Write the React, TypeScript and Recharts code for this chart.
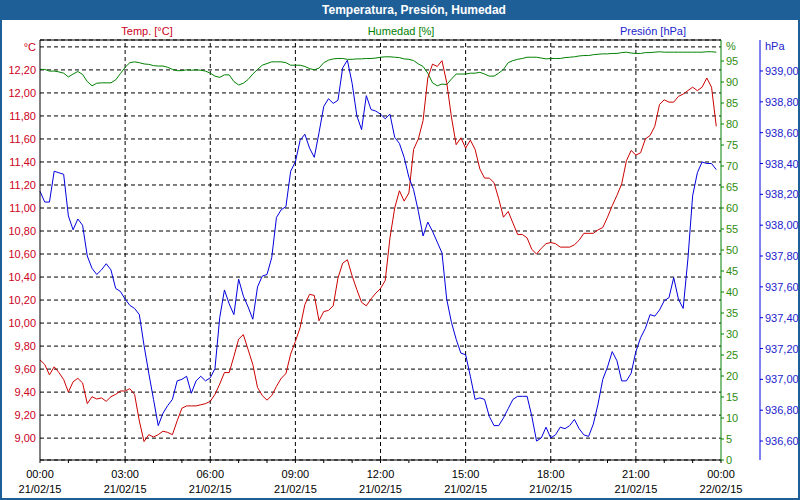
import React from 'react';
import {
  LineChart,
  Line,
  XAxis,
  YAxis,
  CartesianGrid,
  ReferenceLine
} from 'recharts';

// 10-minute readings, 21/02/15 00:00 .. 23:50
const TEMP = [
  9.68, 9.64, 9.55, 9.62, 9.57, 9.51, 9.40, 9.49, 9.52, 9.48, 9.30, 9.36, 9.34, 9.35, 9.32, 9.36, 9.38, 9.41,
  9.41, 9.43, 9.38, 9.15, 8.97, 9.03, 9.01, 9.03, 9.06, 9.05, 9.03, 9.15, 9.26, 9.28, 9.28, 9.28, 9.29, 9.30,
  9.32, 9.38, 9.47, 9.57, 9.57, 9.71, 9.86, 9.90, 9.77, 9.64, 9.44, 9.37, 9.33, 9.37, 9.45, 9.52, 9.56, 9.73,
  9.84, 9.96, 10.16, 10.25, 10.24, 10.02, 10.10, 10.11, 10.15, 10.39, 10.52, 10.55, 10.41, 10.29, 10.18, 10.15, 10.21, 10.26,
  10.30, 10.37, 10.74, 11.00, 11.15, 11.06, 11.13, 11.51, 11.60, 11.76, 12.13, 12.25, 12.23, 12.28, 12.09, 11.79, 11.55, 11.61,
  11.52, 11.59, 11.51, 11.34, 11.26, 11.26, 11.22, 11.08, 10.92, 10.97, 10.87, 10.77, 10.77, 10.74, 10.64, 10.60, 10.65, 10.69,
  10.70, 10.69, 10.66, 10.66, 10.66, 10.68, 10.72, 10.78, 10.78, 10.78, 10.81, 10.83, 10.92, 11.02, 11.11, 11.21, 11.41, 11.50,
  11.46, 11.48, 11.60, 11.63, 11.71, 11.90, 11.94, 11.92, 11.92, 11.97, 11.99, 12.02, 12.05, 12.02, 12.05, 12.13, 12.05, 11.71
];

const HUM = [
  93.0, 93.0, 92.6, 92.6, 92.4, 92.1, 91.2, 91.9, 92.5, 91.8, 90.1, 89.1, 89.7, 89.8, 89.8, 89.8, 90.5, 92.0,
  93.5, 94.6, 94.8, 94.6, 94.3, 94.2, 93.9, 93.8, 93.8, 93.5, 93.0, 92.7, 92.7, 92.9, 92.8, 92.9, 92.8, 92.6,
  92.1, 91.4, 91.1, 91.7, 91.7, 90.1, 89.3, 89.7, 90.6, 91.9, 93.0, 94.0, 94.4, 94.8, 94.8, 94.8, 94.6, 94.0,
  94.0, 94.0, 93.7, 93.2, 92.9, 93.3, 94.6, 95.2, 95.5, 95.6, 95.6, 95.4, 95.4, 95.5, 95.5, 95.6, 95.6, 95.7,
  95.9, 96.0, 96.0, 95.9, 95.8, 95.5, 95.4, 95.1, 94.3, 93.7, 92.1, 89.8, 89.1, 89.5, 89.4, 90.7, 91.9, 91.9,
  91.9, 92.1, 92.1, 92.3, 91.9, 91.4, 91.4, 92.1, 93.0, 94.6, 95.1, 95.4, 95.6, 95.9, 95.9, 95.9, 95.7, 95.5,
  95.6, 95.6, 95.6, 95.8, 95.9, 96.0, 96.2, 96.3, 96.3, 96.5, 96.6, 96.7, 96.7, 96.8, 96.8, 97.0, 97.1, 96.9,
  96.8, 96.8, 97.0, 97.0, 97.1, 97.2, 97.1, 97.1, 97.1, 97.1, 97.1, 97.1, 97.1, 97.1, 97.1, 97.2, 97.2, 97.1
];

const PRES = [
  938.22, 938.15, 938.15, 938.35, 938.34, 938.33, 938.06, 937.97, 938.04, 938.00, 937.80, 937.72, 937.68, 937.71, 937.75, 937.71, 937.59, 937.57,
  937.52, 937.48, 937.46, 937.42, 937.22, 937.04, 936.87, 936.70, 936.78, 936.83, 936.87, 936.99, 937.00, 937.02, 936.91, 936.99, 937.02, 936.99,
  937.01, 937.07, 937.40, 937.58, 937.49, 937.42, 937.65, 937.54, 937.47, 937.39, 937.60, 937.67, 937.68, 937.79, 938.05, 938.10, 938.12, 938.35,
  938.41, 938.55, 938.59, 938.50, 938.44, 938.60, 938.77, 938.82, 938.79, 938.81, 939.02, 939.07, 938.92, 938.71, 938.62, 938.84, 938.75, 938.74,
  938.72, 938.69, 938.72, 938.57, 938.53, 938.44, 938.31, 938.23, 938.09, 937.93, 938.02, 937.96, 937.89, 937.82, 937.52, 937.37, 937.26, 937.17,
  937.16, 937.02, 936.87, 936.88, 936.87, 936.76, 936.70, 936.70, 936.75, 936.81, 936.87, 936.89, 936.89, 936.89, 936.76, 936.60, 936.62, 936.69,
  936.62, 936.64, 936.69, 936.68, 936.70, 936.74, 936.68, 936.64, 936.63, 936.71, 936.84, 937.00, 937.08, 937.18, 937.12, 936.99, 936.99, 937.04,
  937.18, 937.27, 937.33, 937.42, 937.41, 937.45, 937.51, 937.53, 937.66, 937.52, 937.46, 937.78, 938.19, 938.34, 938.41, 938.40, 938.40, 938.36
];

// axis ticks
const HOURS = [0, 1, 2, 3, 4, 5, 6, 7, 8, 9, 10, 11, 12, 13, 14, 15, 16, 17, 18, 19, 20, 21, 22, 23, 24];
const TIME_LABELS = ['00:00', '03:00', '06:00', '09:00', '12:00', '15:00', '18:00', '21:00', '00:00'];
const DATE_LABELS = ['21/02/15', '21/02/15', '21/02/15', '21/02/15', '21/02/15', '21/02/15', '21/02/15', '21/02/15', '22/02/15'];
const GRID_HOURS = [3, 6, 9, 12, 15, 18, 21];

const TEMP_TICKS = [9.0, 9.2, 9.4, 9.6, 9.8, 10.0, 10.2, 10.4, 10.6, 10.8, 11.0, 11.2, 11.4, 11.6, 11.8, 12.0, 12.2, 12.4];
const TEMP_UNIT_AT = 12.4;
const HUM_TICKS = [0, 5, 10, 15, 20, 25, 30, 35, 40, 45, 50, 55, 60, 65, 70, 75, 80, 85, 90, 95, 98.6];
const HUM_UNIT_AT = 98.6;
const PRES_TICKS = [936.6, 936.8, 937.0, 937.2, 937.4, 937.6, 937.8, 938.0, 938.2, 938.4, 938.6, 938.8, 939.0, 939.16];
const PRES_UNIT_AT = 939.16;

const TEMP_DOMAIN = [8.81, 12.46];
const HUM_DOMAIN = [0, 100];
const PRES_DOMAIN = [936.477, 939.201];

const FONT = '"Liberation Sans", Arial, sans-serif';
const FRAME = '#1F5F98';
const RED = '#CC0000';
const RED_TXT = '#CC0022';
const GREEN = '#008000';
const GREEN_TXT = '#2E8B10';
const BLUE = '#0000DD';
const BLUE_TXT = '#2222CC';

const data = TEMP.map((v, i) => ({ t: i / 6, temp: v, hum: HUM[i], pres: PRES[i] }));

const comma = (v: number) => v.toFixed(2).replace('.', ',');

function TempTick({ x, y, payload }: any) {
  const v = payload.value;
  return (
    <text x={x} y={y} dy={4} textAnchor="end" fill={RED_TXT} fontSize={11} fontFamily={FONT}>
      {v === TEMP_UNIT_AT ? '°C' : comma(v)}
    </text>
  );
}

function HumTick({ x, y, payload }: any) {
  const unit = payload.value === HUM_UNIT_AT;
  return (
    <g>
      {!unit && <line x1={x - 5} x2={x - 2} y1={y} y2={y} stroke={GREEN} />}
      <text x={x} y={y} dy={4} textAnchor="start" fill={GREEN_TXT} fontSize={11} fontFamily={FONT}>
        {unit ? '%' : payload.value}
      </text>
    </g>
  );
}

function PresTick({ x, y, payload }: any) {
  const unit = payload.value === PRES_UNIT_AT;
  return (
    <g>
      {!unit && <line x1={x - 5} x2={x - 2} y1={y} y2={y} stroke={BLUE} />}
      <text x={x} y={y} dy={4} textAnchor="start" fill={BLUE_TXT} fontSize={11} fontFamily={FONT}>
        {unit ? 'hPa' : comma(payload.value)}
      </text>
    </g>
  );
}

function HourTick({ x, y, payload }: any) {
  const h = payload.value;
  if (h % 3 !== 0) return <g />;
  const idx = h / 3;
  return (
    <text x={x} y={y} textAnchor="middle" fill="#000" fontSize={11} fontFamily={FONT}>
      <tspan x={x} dy={13}>{TIME_LABELS[idx]}</tspan>
      <tspan x={x} dy={15}>{DATE_LABELS[idx]}</tspan>
    </text>
  );
}

export default function App() {
  const header = (text: string, cx: number, color: string) => (
    <div
      style={{
        position: 'absolute',
        left: cx,
        top: 24,
        transform: 'translateX(-50%)',
        color,
        fontSize: 11,
        lineHeight: '14px',
        fontFamily: FONT,
        whiteSpace: 'nowrap'
      }}
    >
      {text}
    </div>
  );

  return (
    <div style={{ position: 'relative', width: 800, height: 500, background: FRAME }}>
      <style>{'body{margin:0}'}</style>
      <div
        style={{
          position: 'absolute',
          left: 414,
          top: 3,
          transform: 'translateX(-50%)',
          color: '#fff',
          fontWeight: 'bold',
          fontSize: 12,
          lineHeight: '14px',
          fontFamily: FONT,
          whiteSpace: 'nowrap'
        }}
      >
        Temperatura, Presión, Humedad
      </div>
      <div style={{ position: 'absolute', left: 2, top: 20, width: 796, height: 478, background: '#fff' }}>
        <LineChart width={796} height={478} data={data} margin={{ top: 20, right: 0, bottom: 0, left: 0 }}>
          <CartesianGrid horizontal vertical={false} stroke="#000" strokeDasharray="4 3" />
          {GRID_HOURS.map(h => (
            <ReferenceLine key={h} x={h} stroke="#000" strokeDasharray="4 3" />
          ))}
          <ReferenceLine y={TEMP_DOMAIN[1]} stroke="#000" />
          <XAxis
            dataKey="t"
            type="number"
            domain={[0, 24]}
            ticks={HOURS}
            interval={0}
            height={38}
            stroke="#000"
            tickSize={3}
            tickMargin={2}
            tick={<HourTick />}
          />
          <YAxis
            type="number"
            domain={TEMP_DOMAIN}
            ticks={TEMP_TICKS}
            interval={0}
            allowDataOverflow
            width={38}
            stroke="#000"
            tickLine={false}
            tickSize={2}
            tickMargin={2}
            tick={<TempTick />}
          />
          <YAxis
            yAxisId="hum"
            orientation="right"
            type="number"
            domain={HUM_DOMAIN}
            ticks={HUM_TICKS}
            interval={0}
            allowDataOverflow
            width={39}
            stroke={GREEN}
            tickLine={false}
            tickSize={3}
            tickMargin={2}
            tick={<HumTick />}
          />
          <YAxis
            yAxisId="pres"
            orientation="right"
            type="number"
            domain={PRES_DOMAIN}
            ticks={PRES_TICKS}
            interval={0}
            allowDataOverflow
            width={38}
            stroke={BLUE}
            tickLine={false}
            tickSize={3}
            tickMargin={2}
            tick={<PresTick />}
          />
          <Line yAxisId="hum" type="linear" dataKey="hum" stroke={GREEN} strokeWidth={1} dot={false} isAnimationActive={false} />
          <Line type="linear" dataKey="temp" stroke={RED} strokeWidth={1} dot={false} isAnimationActive={false} />
          <Line yAxisId="pres" type="linear" dataKey="pres" stroke={BLUE} strokeWidth={1} dot={false} isAnimationActive={false} />
        </LineChart>
      </div>
      {header('Temp. [°C]', 147, RED_TXT)}
      {header('Humedad [%]', 401, GREEN)}
      {header('Presión [hPa]', 653, BLUE_TXT)}
    </div>
  );
}
